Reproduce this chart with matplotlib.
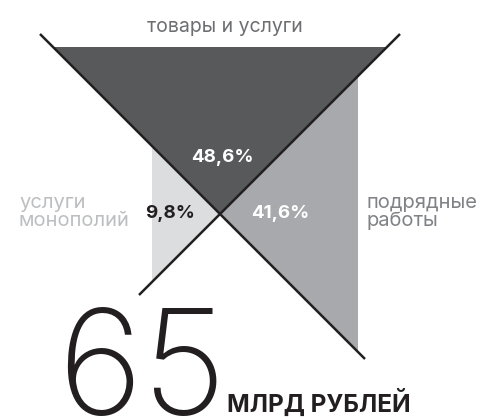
import matplotlib
matplotlib.use("Agg")
import matplotlib.pyplot as plt
from matplotlib.patches import Polygon

plt.rcParams["font.family"] = ["Inter", "DejaVu Sans"]

# доли закупок, %
categories = ["товары и услуги", "подрядные\nработы", "услуги\nмонополий"]
shares = [48.6, 41.6, 9.8]
total = 65
total_unit = "МЛРД РУБЛЕЙ"

fill_colors = ["#58595b", "#a7a9ac", "#dcddde"]
label_colors = ["#6d6e71", "#808285", "#bcbec0"]
value_colors = ["white", "white", "#231f20"]

# pixel layout of the X (crossing point and triangle depths)
cx, cy = 220, 214
depths = [167, 138, 68]  # up, right, left


def fmt(v):
    return f"{v:.1f}".replace(".", ",") + "%"


fig = plt.figure(figsize=(4.8, 4.18), dpi=100)
ax = fig.add_axes([0, 0, 1, 1])
ax.set_xlim(0, 480)
ax.set_ylim(418, 0)
ax.axis("off")

# triangles
d_top, d_right, d_left = depths
tri_top = [(cx, cy), (cx - d_top, cy - d_top), (cx + d_top, cy - d_top)]
tri_right = [(cx, cy), (cx + d_right, cy - d_right), (cx + d_right, cy + d_right)]
tri_left = [(cx, cy), (cx - d_left, cy - d_left), (cx - d_left, cy + d_left)]
for tri, col in zip([tri_top, tri_right, tri_left], fill_colors):
    ax.add_patch(Polygon(tri, closed=True, facecolor=col, edgecolor="none"))

# the two crossing lines
ax.plot([40, 365], [34, 359], color="#231f20", lw=1.8, solid_capstyle="butt")
ax.plot([400, 139], [34, 295], color="#231f20", lw=1.8, solid_capstyle="butt")

# value labels
ax.text(222, 158, fmt(shares[0]), color=value_colors[0], fontsize=13.5,
        fontweight="bold", ha="center", va="center")
ax.text(280, 214, fmt(shares[1]), color=value_colors[1], fontsize=13.5,
        fontweight="bold", ha="center", va="center")
ax.text(170, 214, fmt(shares[2]), color=value_colors[2], fontsize=13.5,
        fontweight="bold", ha="center", va="center")

# category labels
ax.text(225, 27, categories[0], color=label_colors[0], fontsize=14,
        ha="center", va="center")
ax.text(367, 212, categories[1], color=label_colors[1], fontsize=14.5,
        ha="left", va="center", linespacing=0.95)
ax.text(19, 212, categories[2], color=label_colors[2], fontsize=14.5,
        ha="left", va="center", linespacing=0.95)

# total
ax.text(57, 415, str(total), color="#231f20", fontsize=105, fontweight=200,
        ha="left", va="baseline")
ax.text(227, 412, total_unit, color="#231f20", fontsize=17.5, fontweight="bold",
        ha="left", va="baseline")

fig.savefig("out.png")
